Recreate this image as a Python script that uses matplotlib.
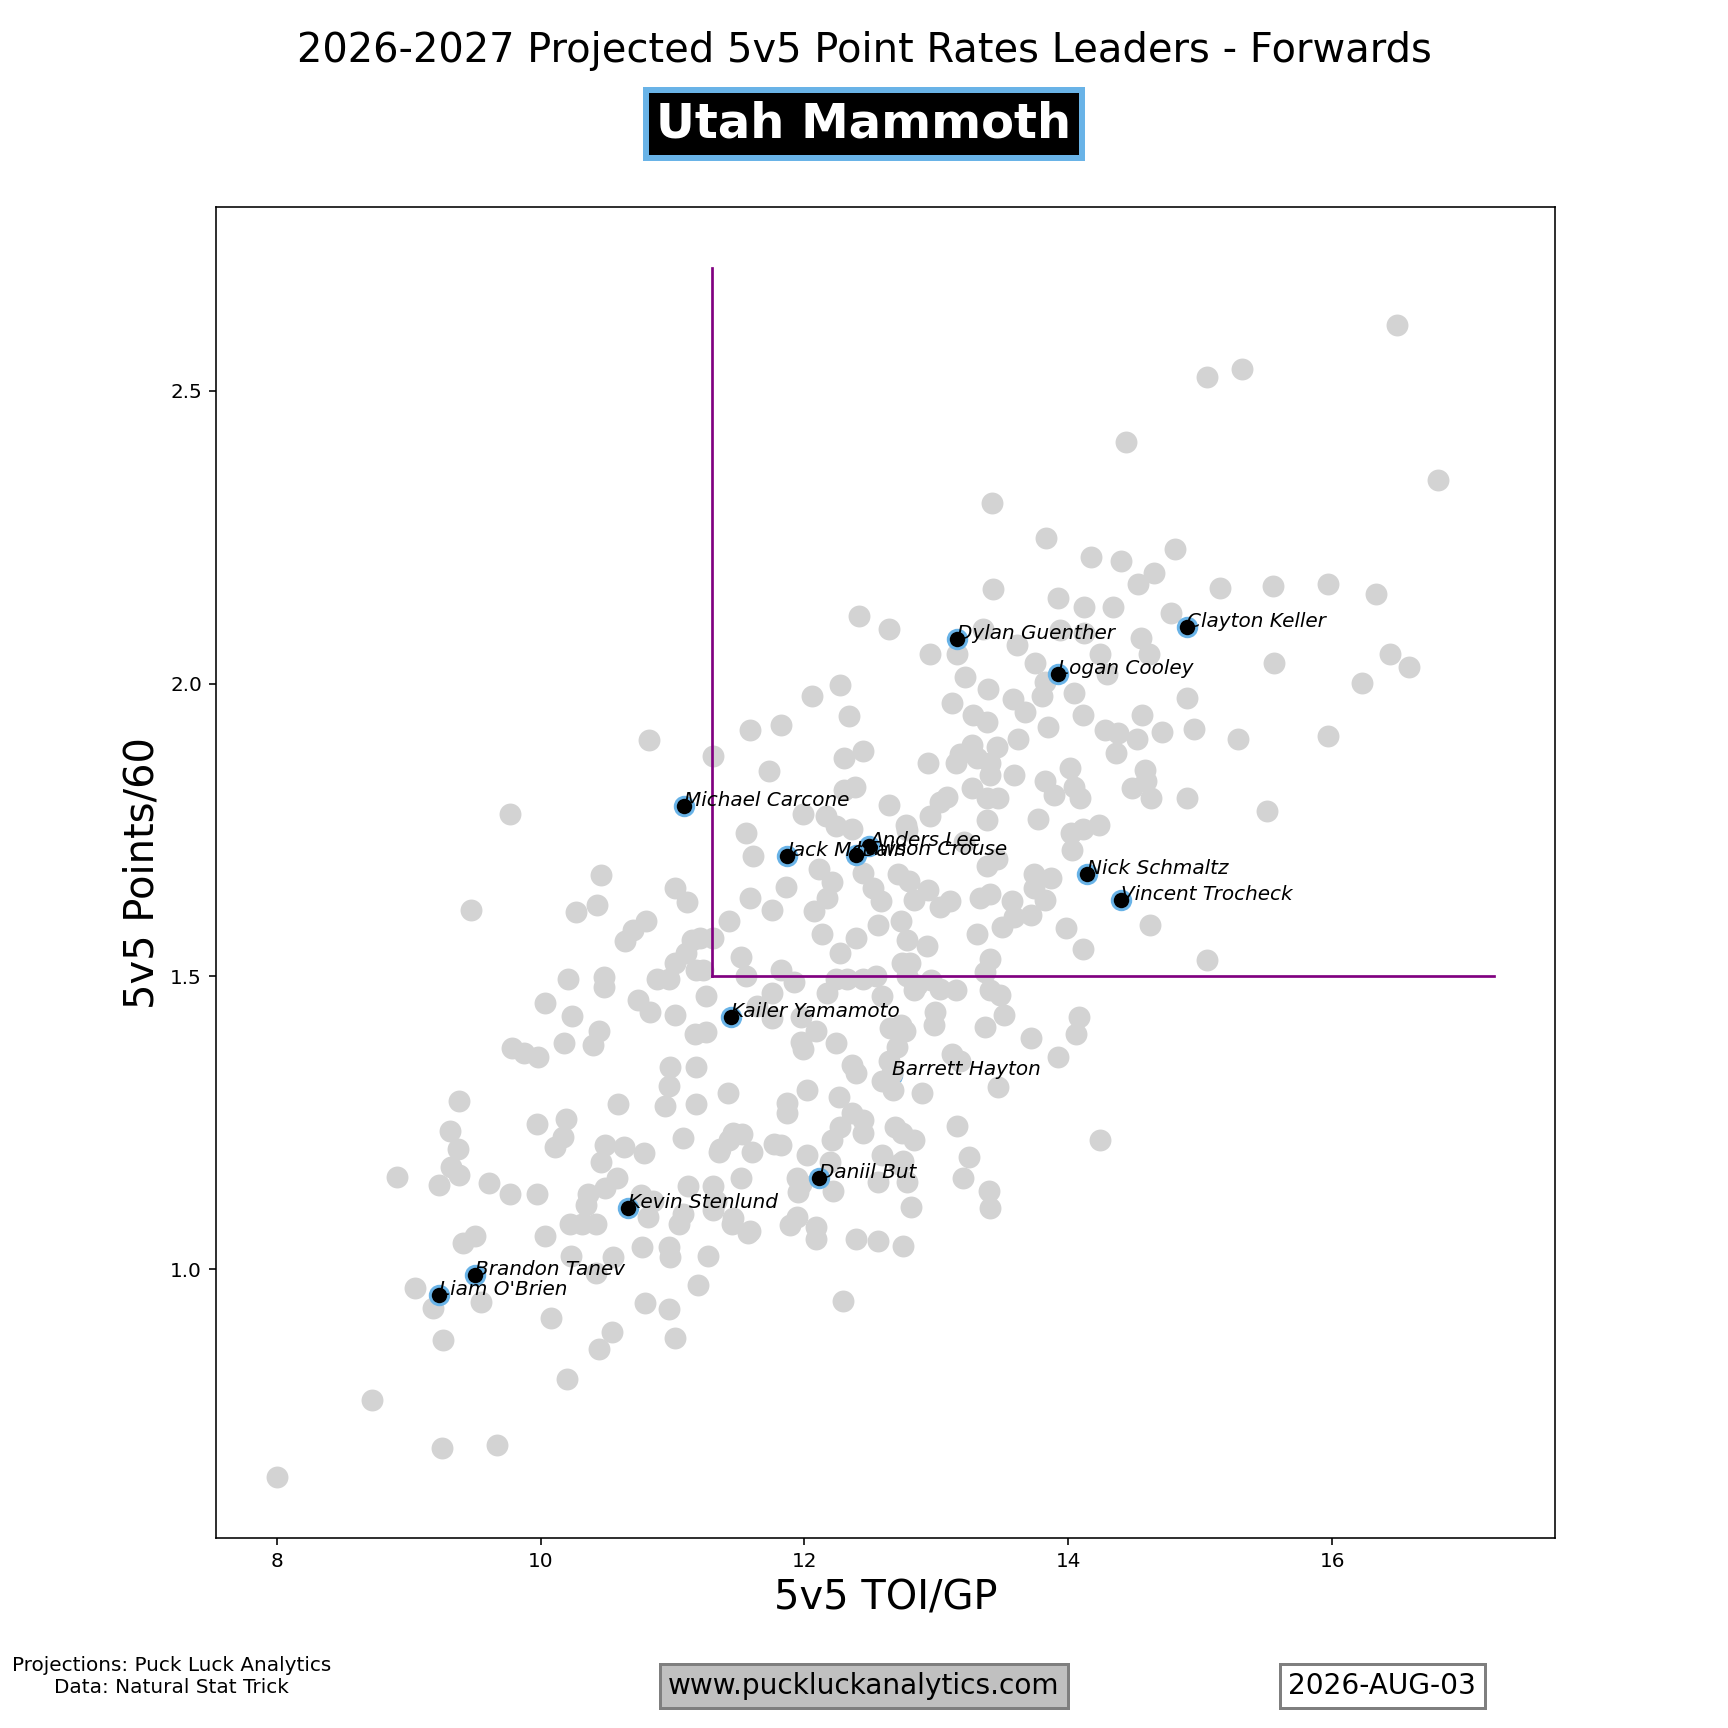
import matplotlib
matplotlib.use("Agg")
import matplotlib.pyplot as plt

# League forwards (grey): 5v5 TOI/GP and 5v5 Points/60
league_toi = [
    16.49, 15.32, 15.05, 14.44, 16.80, 13.42, 13.83, 14.81, 14.17, 14.40,
    14.65, 15.15, 15.55, 15.97, 16.33, 14.53, 13.43, 13.92, 14.12, 14.34,
    12.41, 14.78, 12.64, 13.35, 13.94, 14.12, 14.55, 13.61, 12.95, 13.16,
    14.24, 14.61, 13.75, 15.56, 16.44, 16.58, 13.22, 14.29, 13.82, 13.80,
    13.39, 14.04, 14.90, 13.12, 13.58, 13.67, 13.28, 13.38, 14.11, 14.56,
    13.85, 14.28, 14.38, 14.52, 14.71, 14.95, 15.29, 15.97, 16.23, 13.62,
    13.46, 13.27, 13.18, 14.36, 12.94, 13.15, 13.31, 13.41, 13.41, 13.59,
    14.01, 13.82, 14.04, 14.58, 14.59, 14.48, 13.89, 14.09, 14.63, 14.90,
    15.51, 13.27, 13.38, 13.47, 13.08, 13.03, 12.95, 13.38, 13.77, 14.02,
    14.11, 14.23, 14.03, 12.78, 13.21, 13.46, 13.38, 13.74, 13.87, 12.79,
    12.94, 13.10, 13.03, 13.33, 13.41, 13.57, 13.74, 13.82, 13.72, 13.59,
    13.50, 13.31, 13.98, 14.62, 14.11, 15.05, 12.93, 12.78, 12.80, 13.41,
    13.37, 13.41, 13.48, 13.15, 13.03, 12.83, 12.78, 12.99, 12.98, 12.76,
    13.37, 13.51, 13.72, 14.08, 14.06,
    11.99, 12.16, 12.24, 12.36, 11.56, 12.77, 12.64, 12.38, 12.30, 12.30,
    12.44, 12.34, 12.27, 12.06, 11.82, 11.59, 11.31, 11.73, 11.61, 12.11,
    12.21, 12.44, 12.71, 11.86, 11.59, 11.75, 11.43, 12.07, 12.17, 12.52,
    12.58, 12.83, 12.56, 12.73, 12.13, 12.39, 12.27, 11.31, 11.21, 11.52,
    11.82, 11.92, 11.56, 11.23, 12.74, 12.24, 12.32, 12.44, 12.54, 12.85,
    12.96, 12.59, 12.17, 11.75, 11.64, 11.75, 11.25, 11.25, 11.97, 12.09,
    11.97, 11.99, 12.24, 12.65, 12.73, 12.70, 12.64, 12.36, 12.39, 12.59,
    12.67, 12.89, 13.12, 13.18, 13.47, 13.92, 11.42, 12.02, 11.87, 11.87,
    12.26, 12.36, 12.44, 12.27, 12.44, 12.21, 12.69, 12.74, 12.83, 13.16,
    14.24, 11.46, 11.53, 11.36, 11.60, 11.77, 11.82, 12.02, 12.19, 12.59,
    12.75, 13.25, 11.52, 11.97, 12.22, 12.56, 12.78, 13.20, 13.40, 13.41,
    12.81, 11.31, 11.46, 11.59, 11.89, 11.94, 12.09, 12.09, 12.39, 12.56,
    12.75, 12.29, 12.72, 11.94, 11.95,
    10.82, 9.77, 10.46, 9.47, 10.27, 10.43, 11.02, 11.11, 10.80, 10.70,
    10.64, 11.15, 10.21, 10.48, 10.48, 10.88, 10.97, 11.02, 11.10, 11.18,
    10.03, 10.24, 10.74, 10.83, 11.02, 10.44, 10.40, 10.18, 9.78, 9.87,
    9.98, 11.17, 11.18, 10.98, 10.97, 10.94, 10.59, 11.08, 11.18, 9.38,
    9.31, 9.37, 9.38, 9.97, 10.19, 10.17, 10.11, 10.49, 10.63, 10.78,
    10.46, 10.58, 10.49, 10.36, 10.34, 10.22, 10.31, 10.42, 10.03, 9.97,
    9.77, 9.61, 11.08, 11.05, 11.35, 11.43, 11.12, 11.33, 11.31, 11.45,
    11.57, 10.76, 10.85, 10.81, 9.50, 9.41, 10.23, 10.55, 10.77, 10.97,
    10.98, 11.27, 10.42, 9.55, 10.08, 10.79, 10.97, 11.19, 11.02, 10.54,
    10.44, 10.20, 9.67, 8.91, 9.23, 9.05, 9.18, 9.26, 8.72, 9.25,
    8.00, 9.32, 12.66,
]
league_pts = [
    2.613, 2.538, 2.524, 2.413, 2.347, 2.308, 2.249, 2.229, 2.216, 2.210,
    2.189, 2.163, 2.167, 2.170, 2.153, 2.170, 2.161, 2.146, 2.131, 2.131,
    2.116, 2.121, 2.093, 2.093, 2.091, 2.087, 2.078, 2.065, 2.050, 2.050,
    2.050, 2.050, 2.035, 2.035, 2.050, 2.029, 2.012, 2.016, 2.003, 1.979,
    1.991, 1.984, 1.976, 1.967, 1.974, 1.952, 1.946, 1.935, 1.946, 1.946,
    1.925, 1.921, 1.916, 1.906, 1.918, 1.923, 1.905, 1.910, 2.001, 1.906,
    1.891, 1.895, 1.880, 1.882, 1.865, 1.865, 1.873, 1.865, 1.844, 1.844,
    1.856, 1.833, 1.824, 1.852, 1.833, 1.822, 1.810, 1.805, 1.805, 1.805,
    1.782, 1.822, 1.805, 1.805, 1.807, 1.797, 1.773, 1.767, 1.769, 1.744,
    1.752, 1.758, 1.716, 1.750, 1.729, 1.701, 1.688, 1.675, 1.667, 1.663,
    1.647, 1.628, 1.618, 1.633, 1.641, 1.628, 1.650, 1.630, 1.605, 1.601,
    1.584, 1.573, 1.582, 1.588, 1.547, 1.528, 1.552, 1.562, 1.522, 1.530,
    1.507, 1.477, 1.468, 1.477, 1.479, 1.477, 1.500, 1.439, 1.417, 1.407,
    1.413, 1.434, 1.394, 1.430, 1.402,
    1.777, 1.773, 1.756, 1.752, 1.744, 1.758, 1.792, 1.824, 1.818, 1.873,
    1.884, 1.944, 1.997, 1.978, 1.929, 1.920, 1.876, 1.850, 1.705, 1.684,
    1.661, 1.677, 1.675, 1.652, 1.633, 1.614, 1.594, 1.612, 1.633, 1.650,
    1.628, 1.630, 1.588, 1.594, 1.573, 1.565, 1.539, 1.565, 1.565, 1.533,
    1.511, 1.490, 1.501, 1.511, 1.522, 1.496, 1.496, 1.496, 1.501, 1.485,
    1.494, 1.466, 1.471, 1.471, 1.449, 1.428, 1.466, 1.405, 1.430, 1.407,
    1.388, 1.375, 1.386, 1.411, 1.417, 1.379, 1.355, 1.349, 1.335, 1.321,
    1.306, 1.300, 1.368, 1.355, 1.311, 1.362, 1.300, 1.305, 1.283, 1.266,
    1.294, 1.266, 1.255, 1.243, 1.232, 1.221, 1.243, 1.232, 1.221, 1.245,
    1.221, 1.232, 1.230, 1.205, 1.199, 1.214, 1.212, 1.194, 1.183, 1.194,
    1.185, 1.192, 1.156, 1.145, 1.134, 1.149, 1.149, 1.156, 1.134, 1.104,
    1.106, 1.141, 1.087, 1.065, 1.076, 1.089, 1.072, 1.051, 1.051, 1.047,
    1.040, 0.946, 1.179, 1.156, 1.132,
    1.903, 1.777, 1.673, 1.614, 1.609, 1.622, 1.650, 1.626, 1.594, 1.579,
    1.560, 1.562, 1.496, 1.498, 1.482, 1.496, 1.496, 1.522, 1.539, 1.511,
    1.454, 1.432, 1.460, 1.439, 1.434, 1.407, 1.383, 1.386, 1.377, 1.369,
    1.362, 1.402, 1.345, 1.345, 1.313, 1.279, 1.281, 1.224, 1.281, 1.287,
    1.235, 1.205, 1.161, 1.248, 1.256, 1.226, 1.209, 1.211, 1.209, 1.198,
    1.183, 1.155, 1.138, 1.128, 1.110, 1.077, 1.077, 1.077, 1.056, 1.128,
    1.128, 1.147, 1.094, 1.077, 1.200, 1.221, 1.141, 1.117, 1.100, 1.077,
    1.062, 1.127, 1.117, 1.089, 1.056, 1.045, 1.023, 1.021, 1.038, 1.038,
    1.021, 1.023, 0.993, 0.944, 0.916, 0.942, 0.932, 0.972, 0.883, 0.893,
    0.864, 0.812, 0.700, 1.158, 1.143, 0.968, 0.934, 0.878, 0.776, 0.695,
    0.644, 1.175, 1.334,
]

# Utah Mammoth forwards (highlighted)
team_players = [
    "Clayton Keller", "Dylan Guenther", "Logan Cooley", "Michael Carcone",
    "Jack McBain", "Anders Lee", "Lawson Crouse", "Nick Schmaltz",
    "Vincent Trocheck", "Kailer Yamamoto", "Barrett Hayton", "Daniil But",
    "Kevin Stenlund", "Brandon Tanev", "Liam O'Brien",
]
team_toi = [14.90, 13.16, 13.92, 11.09, 11.87, 12.49, 12.39, 14.14,
            14.40, 11.44, 12.66, 12.11, 10.66, 9.50, 9.23]
team_pts = [2.097, 2.076, 2.016, 1.790, 1.705, 1.722, 1.707, 1.675,
            1.630, 1.430, 1.332, 1.155, 1.104, 0.989, 0.955]
hidden_players = ["Barrett Hayton"]

# Threshold guide lines
threshold_toi = 11.3
threshold_pts = 1.5
line_top = 2.71
line_right = 17.23

title = "2026-2027 Projected 5v5 Point Rates Leaders - Forwards"
team_name = "Utah Mammoth"
team_color = "#69B3E7"

fig = plt.figure(figsize=(12, 12), dpi=144)
ax = fig.add_subplot(111)

ax.scatter(league_toi, league_pts, s=120, color="#D3D3D3", linewidths=0, zorder=2)

for name, x, y in zip(team_players, team_toi, team_pts):
    z = 1 if name in hidden_players else 3
    ax.scatter([x], [y], s=85, color="black", edgecolors=team_color,
               linewidths=1.5, zorder=z)
    ax.text(x, y, name, fontsize=10, style="italic", color="black", zorder=6)

ax.plot([threshold_toi, threshold_toi], [threshold_pts, line_top],
        color="purple", lw=1.35, zorder=5)
ax.plot([threshold_toi, line_right], [threshold_pts, threshold_pts],
        color="purple", lw=1.35, zorder=5)

ax.set_xlabel("5v5 TOI/GP", fontsize=20)
ax.set_ylabel("5v5 Points/60", fontsize=20)
ax.set_xticks([8, 10, 12, 14, 16])
ax.set_yticks([1.0, 1.5, 2.0, 2.5])

fig.text(0.5, 0.9705, title, ha="center", va="center", fontsize=20)
fig.text(0.5, 0.928, team_name, ha="center", va="center", fontsize=24,
         fontweight="bold", color="white",
         bbox=dict(boxstyle="square,pad=0.22", facecolor="black",
                   edgecolor=team_color, linewidth=3))

fig.text(0.0995, 0.030, "Projections: Puck Luck Analytics\nData: Natural Stat Trick",
         ha="center", va="center", fontsize=10, multialignment="center")
fig.text(0.5, 0.0243, "www.puckluckanalytics.com", ha="center", va="center",
         fontsize=14, bbox=dict(boxstyle="square,pad=0.3", facecolor="#C0C0C0",
                                edgecolor="#7F7F7F", linewidth=1.5))
fig.text(0.80, 0.0243, "2026-AUG-03", ha="center", va="center", fontsize=14,
         bbox=dict(boxstyle="square,pad=0.3", facecolor="white",
                   edgecolor="#7F7F7F", linewidth=1.5))

fig.savefig("out.png", dpi=144)
